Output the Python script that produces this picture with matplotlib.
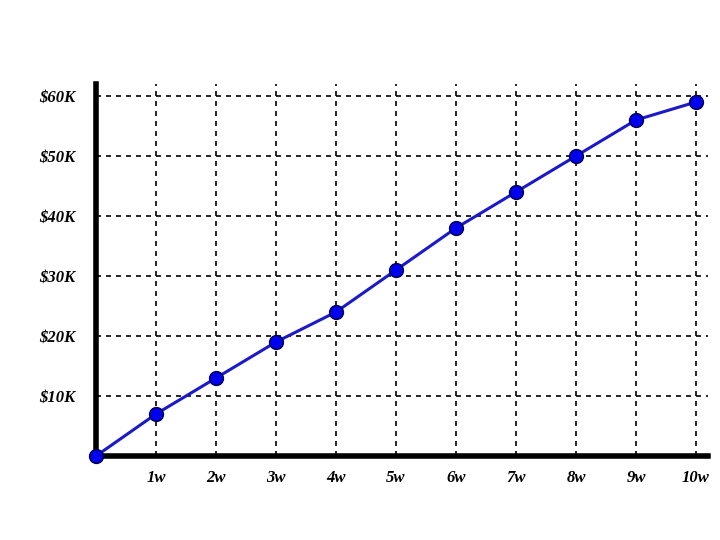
import matplotlib
matplotlib.use("Agg")
import matplotlib.pyplot as plt

weeks = [0, 1, 2, 3, 4, 5, 6, 7, 8, 9, 10]
revenue_k = [0, 7, 13, 19, 24, 31, 38, 44, 50, 56, 59]
x_labels = ["", "1w", "2w", "3w", "4w", "5w", "6w", "7w", "8w", "9w", "10w"]
y_ticks = [10, 20, 30, 40, 50, 60]
y_labels = ["$10K", "$20K", "$30K", "$40K", "$50K", "$60K"]

fig = plt.figure(figsize=(7.2, 5.4), dpi=100)
ax = fig.add_axes([96 / 720, 84 / 540, 612 / 720, 372 / 540])

ax.plot(weeks, revenue_k, color="#1a1acc", linewidth=2.2, marker="o",
        markersize=10, markerfacecolor="#0000ee", markeredgecolor="#000044",
        markeredgewidth=1.0, zorder=5, clip_on=False)

ax.set_xlim(0, 10.2)
ax.set_ylim(0, 62)
ax.set_xticks(weeks[1:])
ax.set_xticklabels(x_labels[1:])
ax.set_yticks(y_ticks)
ax.set_yticklabels(y_labels)

for lbl in ax.get_xticklabels() + ax.get_yticklabels():
    lbl.set_fontfamily("Liberation Serif")
    lbl.set_fontstyle("italic")
    lbl.set_fontweight("bold")
    lbl.set_fontsize(12)

ax.tick_params(length=0)
ax.tick_params(axis="x", pad=10)
ax.tick_params(axis="y", pad=15)
ax.grid(True, color="black", linestyle=(0, (3, 3)), linewidth=1.2)
ax.set_axisbelow(True)

for side in ["top", "right"]:
    ax.spines[side].set_visible(False)
ax.spines["left"].set_linewidth(4)
ax.spines["bottom"].set_linewidth(4)

fig.savefig("out.png", dpi=100)
